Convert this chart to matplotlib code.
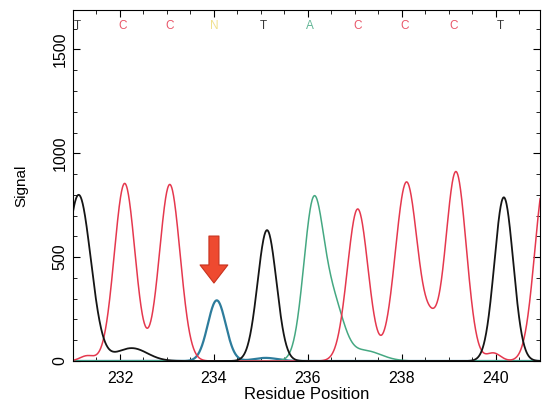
import numpy as np
import matplotlib
matplotlib.use("Agg")
import matplotlib.pyplot as plt
from matplotlib.ticker import MultipleLocator

plt.rcParams["font.family"] = "Liberation Sans"

# peak tables (position, height, width) per channel
t_pos = [231.12, 232.25, 235.13, 240.17]
t_amp = [800, 62, 630, 788]
t_wid = [0.26, 0.33, 0.2, 0.2]

c_pos = [231.3, 232.1, 233.06, 237.06, 238.1, 238.62, 239.15, 239.95, 241.05]
c_amp = [25, 855, 850, 732, 862, 125, 912, 38, 880]
c_wid = [0.15, 0.22, 0.22, 0.22, 0.24, 0.15, 0.22, 0.15, 0.22]

a_pos = [236.12, 236.55, 237.2]
a_amp = [755, 250, 50]
a_wid = [0.21, 0.22, 0.35]

g_pos = [234.06, 235.1]
g_amp = [292, 15]
g_wid = [0.19, 0.25]

base_pos = [231.1, 232.05, 233.05, 234.0, 235.05, 236.05, 237.05, 238.05, 239.1, 240.1]
base_call = ["T", "C", "C", "N", "T", "A", "C", "C", "C", "T"]

arrow_x = 234.0
arrow_top, arrow_tip = 615, 362

colors = {"T": "#151515", "C": "#e5384e", "A": "#45a882", "G": "#2d7c9c", "N": "#eedc7a"}


def trace(x, pos, amp, wid):
    y = np.zeros_like(x)
    for p, a, w in zip(pos, amp, wid):
        y += a * np.exp(-(x - p) ** 2 / (2 * w ** 2))
    return y


x = np.linspace(230.8, 241.3, 1500)

fig = plt.figure(figsize=(5.42, 4.07), dpi=100)
ax = fig.add_axes([73 / 542, 46 / 407, 467 / 542, 351 / 407])

ax.plot(x, trace(x, g_pos, g_amp, g_wid), color=colors["G"], lw=1.6)
ax.plot(x, trace(x, a_pos, a_amp, a_wid), color=colors["A"], lw=1.1)
ax.plot(x, trace(x, c_pos, c_amp, c_wid), color=colors["C"], lw=1.1)
ax.plot(x, trace(x, t_pos, t_amp, t_wid), color=colors["T"], lw=1.3)

ax.annotate("", xy=(arrow_x, arrow_tip), xytext=(arrow_x, arrow_top),
            arrowprops=dict(arrowstyle="simple,head_length=0.65,head_width=1.0,tail_width=0.36",
                            mutation_scale=20, fc="#ee4a30", ec="#c8321e", lw=0.8))

for p, b in zip(base_pos, base_call):
    ax.text(p, 0.955, b, transform=ax.get_xaxis_transform(), ha="center", va="center",
            fontsize=8.5, color=colors[b], alpha=0.85)

ax.set_xlim(231.0, 240.94)
ax.set_ylim(0, 1690)
ax.xaxis.set_major_locator(MultipleLocator(2))
ax.xaxis.set_minor_locator(MultipleLocator(0.5))
ax.yaxis.set_major_locator(MultipleLocator(500))
ax.yaxis.set_minor_locator(MultipleLocator(100))
ax.tick_params(which="both", direction="in", top=True, right=True, labelsize=11.5)
ax.tick_params(which="major", length=5)
ax.tick_params(which="minor", length=3)
ax.tick_params(axis="x", pad=7)
ax.tick_params(axis="y", pad=4)
for lbl in ax.get_yticklabels():
    lbl.set_rotation(90)
    lbl.set_va("center")

ax.set_xlabel("Residue Position", fontsize=12, labelpad=1)
ax.set_ylabel("Signal", fontsize=11, labelpad=17)

fig.savefig("out.png", dpi=100)
